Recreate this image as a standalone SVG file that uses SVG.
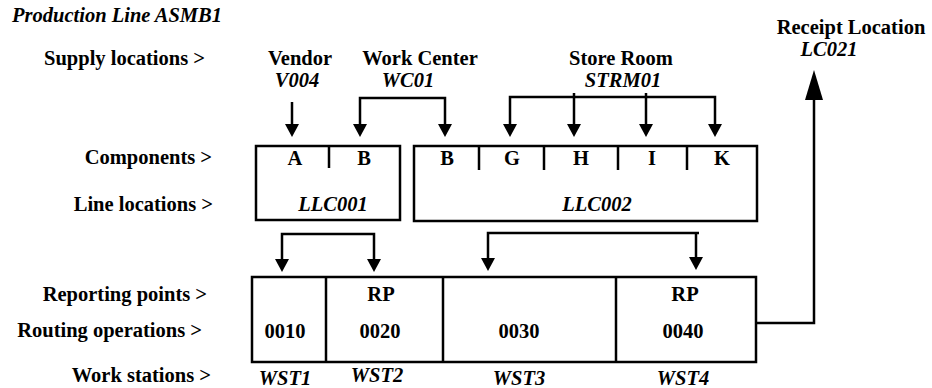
<svg xmlns="http://www.w3.org/2000/svg" width="932" height="388" viewBox="0 0 932 388">
<style>
text{font-family:"Liberation Serif","Times New Roman",serif;font-weight:bold;font-size:20.5px;fill:#000}
.i{font-style:italic}
.c{text-anchor:middle}
.e{text-anchor:end}
.box{fill:none;stroke:#000;stroke-width:2.5}
.div{stroke:#000;stroke-width:2.5}
.con{fill:none;stroke:#000;stroke-width:2.5}
</style>
<defs>
<marker id="ah" markerUnits="userSpaceOnUse" markerWidth="13" markerHeight="14" refX="0" refY="7" orient="auto-start-reverse" viewBox="0 0 13 14"><path d="M0,0 L13,7 L0,14 Z" fill="#000"/></marker>
<marker id="ahb" markerUnits="userSpaceOnUse" markerWidth="30" markerHeight="18" refX="0" refY="9" orient="auto" viewBox="0 0 30 18"><path d="M0,0 L30,9 L0,18 Z" fill="#000"/></marker>
</defs>
<text class="i" x="12" y="22">Production Line ASMB1</text>
<g id="row-labels">
<text class="e" x="205" y="65">Supply locations &gt;</text>
<text class="e" x="212" y="164">Components &gt;</text>
<text class="e" x="213" y="211">Line locations &gt;</text>
<text class="e" x="207" y="301">Reporting points &gt;</text>
<text class="e" x="202" y="337">Routing operations &gt;</text>
<text class="e" x="211" y="382">Work stations &gt;</text>
</g>
<g id="vendor"><text class="c" x="300" y="65">Vendor</text><text class="c i" x="297" y="87">V004</text></g>
<g id="workcenter"><text class="c" x="420" y="65">Work Center</text><text class="c i" x="408" y="87">WC01</text></g>
<g id="storeroom"><text class="c" x="621" y="65">Store Room</text><text class="c i" x="623" y="87">STRM01</text></g>
<g id="receipt"><text class="c" x="851" y="34">Receipt Location</text><text class="c i" x="829" y="56">LC021</text></g>
<g id="llc001">
<rect class="box" x="256" y="146" width="144" height="74"/>
<line class="div" x1="329" y1="146" x2="329" y2="168"/>
<text class="c" x="295" y="165">A</text><text class="c" x="364" y="165">B</text>
<text class="c i" x="333" y="211">LLC001</text>
</g>
<g id="llc002">
<rect class="box" x="414" y="146" width="343" height="75"/>
<line class="div" x1="479" y1="146" x2="479" y2="170"/>
<line class="div" x1="544" y1="146" x2="544" y2="170"/>
<line class="div" x1="618" y1="146" x2="618" y2="170"/>
<line class="div" x1="687" y1="146" x2="687" y2="170"/>
<text class="c" x="447" y="165">B</text><text class="c" x="512" y="165">G</text><text class="c" x="581" y="165">H</text><text class="c" x="652" y="165">I</text><text class="c" x="722" y="165">K</text>
<text class="c i" x="597" y="211">LLC002</text>
</g>
<g id="routing">
<rect class="box" x="252" y="277" width="504" height="85"/>
<line class="div" x1="326" y1="277" x2="326" y2="363"/>
<line class="div" x1="443" y1="277" x2="443" y2="363"/>
<line class="div" x1="616" y1="277" x2="616" y2="363"/>
<text class="c" x="381" y="301">RP</text><text class="c" x="685" y="301">RP</text>
<text class="c" x="285" y="338">0010</text><text class="c" x="380" y="338">0020</text><text class="c" x="519" y="338">0030</text><text class="c" x="683" y="338">0040</text>
<text class="c i" x="285" y="385">WST1</text><text class="c i" x="377" y="382">WST2</text><text class="c i" x="519" y="385">WST3</text><text class="c i" x="683" y="385">WST4</text>
</g>
<g id="connectors">
<path class="con" d="M292,102 V124" marker-end="url(#ah)"/>
<path class="con" d="M360,124 V98 H445 V124" marker-start="url(#ah)" marker-end="url(#ah)"/>
<path class="con" d="M510,124 V97 H715 V124" marker-start="url(#ah)" marker-end="url(#ah)"/>
<path class="con" d="M574,93 V124" marker-end="url(#ah)"/>
<path class="con" d="M646,93 V124" marker-end="url(#ah)"/>
<path class="con" d="M282,259 V234 H374 V259" marker-start="url(#ah)" marker-end="url(#ah)"/>
<path class="con" d="M488,258 V233 H699" marker-start="url(#ah)"/>
<path class="con" d="M696,233 V257" marker-end="url(#ah)"/>
<path class="con" d="M756,323 H814 V100" marker-end="url(#ahb)"/>
</g>
</svg>
